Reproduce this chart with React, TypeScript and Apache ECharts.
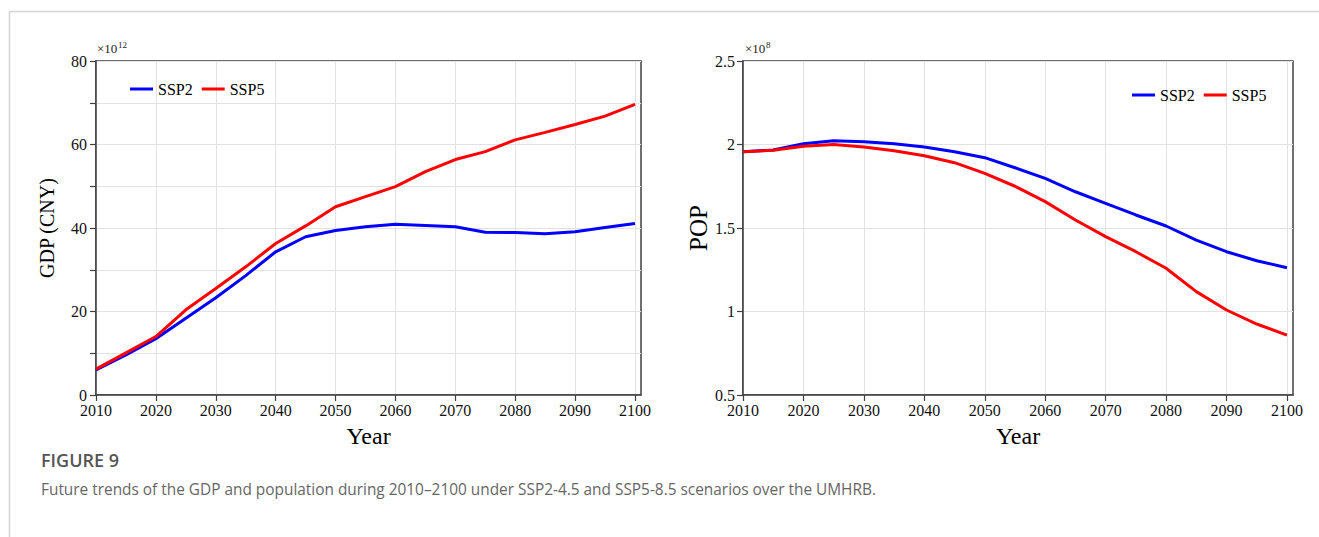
import React, { useEffect, useRef } from "react";
import * as echarts from "echarts";

const years = [2010, 2015, 2020, 2025, 2030, 2035, 2040, 2045, 2050, 2055, 2060, 2065, 2070, 2075, 2080, 2085, 2090, 2095, 2100];
const gdpSSP2 = [6.0, 9.6, 13.5, 18.4, 23.3, 28.6, 34.3, 37.9, 39.4, 40.3, 40.9, 40.6, 40.3, 39.0, 38.9, 38.6, 39.1, 40.1, 41.1];
const gdpSSP5 = [6.2, 10.1, 14.0, 20.4, 25.5, 30.7, 36.3, 40.5, 45.1, 47.5, 49.9, 53.5, 56.4, 58.3, 61.1, 62.9, 64.8, 66.8, 69.6];
const popSSP2 = [1.957, 1.967, 2.005, 2.022, 2.017, 2.005, 1.985, 1.957, 1.921, 1.861, 1.797, 1.717, 1.648, 1.578, 1.512, 1.428, 1.358, 1.304, 1.262];
const popSSP5 = [1.957, 1.965, 1.99, 2.0, 1.985, 1.962, 1.933, 1.891, 1.827, 1.75, 1.658, 1.548, 1.448, 1.358, 1.259, 1.119, 1.009, 0.925, 0.858];
const xTicks = [2010, 2020, 2030, 2040, 2050, 2060, 2070, 2080, 2090, 2100];
const seriesNames = ["SSP2", "SSP5"];
const figureLabel = "FIGURE 9";
const captionText = "Future trends of the GDP and population during 2010–2100 under SSP2-4.5 and SSP5-8.5 scenarios over the UMHRB.";

const SERIF = '"Liberation Serif", "Times New Roman", serif';

export default function App() {
  const ref = useRef<HTMLDivElement>(null);
  useEffect(() => {
    if (!ref.current) return;
    const chart = echarts.init(ref.current, null, { renderer: "svg" });
    const pair = (xs: number[], ys: number[]) => xs.map((x, i) => [x, ys[i]]);
    const axisLineStyle = { color: "#404040", width: 1.5 };
    const xAxisBase = (gridIndex: number) => ({
      type: "value",
      gridIndex,
      min: 2010,
      max: 2101,
      interval: 10,
      name: "Year",
      nameLocation: "middle",
      nameGap: 29,
      nameTextStyle: { fontFamily: SERIF, fontSize: 24, color: "#000" },
      axisLine: { show: true, lineStyle: axisLineStyle },
      axisTick: { show: true, length: 6, inside: false, lineStyle: { color: "#404040", width: 1.2 }, customValues: xTicks },
      axisLabel: {
        fontFamily: SERIF,
        fontSize: 16,
        color: "#111",
        margin: 7,
        customValues: xTicks,
        formatter: (v: number) => (v % 10 === 0 ? String(v) : ""),
      },
      splitLine: { show: true, lineStyle: { color: "#e2e2e2", width: 1 } },
    });
    const legendBase = (left: number, top: number) => ({
      data: seriesNames,
      left,
      top,
      icon: "rect",
      itemWidth: 23,
      itemHeight: 3,
      itemGap: 9,
      textStyle: { fontFamily: SERIF, fontSize: 16, color: "#000" },
    });
    const option: any = {
      animation: false,
      backgroundColor: "#fff",
      grid: [
        { left: 96, top: 61, width: 545, height: 334, show: true, borderColor: "#404040", borderWidth: 1.5, backgroundColor: "transparent" },
        { left: 743, top: 61, width: 550, height: 334, show: true, borderColor: "#404040", borderWidth: 1.5, backgroundColor: "transparent" },
      ],
      legend: [legendBase(125, 76), legendBase(1127, 82)],
      xAxis: [xAxisBase(0), xAxisBase(1)],
      yAxis: [
        {
          type: "value",
          gridIndex: 0,
          min: 0,
          max: 80,
          interval: 10,
          name: "GDP (CNY)",
          nameLocation: "middle",
          nameGap: 39,
          nameTextStyle: { fontFamily: SERIF, fontSize: 20, color: "#000" },
          axisLine: { show: true, lineStyle: axisLineStyle },
          axisTick: { show: true, length: 6, lineStyle: { color: "#404040", width: 1.2 } },
          axisLabel: {
            fontFamily: SERIF,
            fontSize: 16,
            color: "#111",
            margin: 9,
            formatter: (v: number) => (v % 20 === 0 ? String(v) : ""),
          },
          splitLine: { show: true, lineStyle: { color: "#e2e2e2", width: 1 } },
        },
        {
          type: "value",
          gridIndex: 1,
          min: 0.5,
          max: 2.5,
          interval: 0.5,
          name: "POP",
          nameLocation: "middle",
          nameGap: 32,
          nameTextStyle: { fontFamily: SERIF, fontSize: 25, color: "#000" },
          axisLine: { show: true, lineStyle: axisLineStyle },
          axisTick: { show: true, length: 6, lineStyle: { color: "#404040", width: 1.2 } },
          axisLabel: { fontFamily: SERIF, fontSize: 16, color: "#111", margin: 8 },
          splitLine: { show: true, lineStyle: { color: "#e2e2e2", width: 1 } },
        },
      ],
      series: [
        { name: "SSP2", type: "line", xAxisIndex: 0, yAxisIndex: 0, data: pair(years, gdpSSP2), showSymbol: false, symbol: "none", lineStyle: { color: "#0000ff", width: 3 }, itemStyle: { color: "#0000ff" } },
        { name: "SSP5", type: "line", xAxisIndex: 0, yAxisIndex: 0, data: pair(years, gdpSSP5), showSymbol: false, symbol: "none", lineStyle: { color: "#ff0000", width: 3 }, itemStyle: { color: "#ff0000" } },
        { name: "SSP2", type: "line", xAxisIndex: 1, yAxisIndex: 1, data: pair(years, popSSP2), showSymbol: false, symbol: "none", lineStyle: { color: "#0000ff", width: 3 }, itemStyle: { color: "#0000ff" } },
        { name: "SSP5", type: "line", xAxisIndex: 1, yAxisIndex: 1, data: pair(years, popSSP5), showSymbol: false, symbol: "none", lineStyle: { color: "#ff0000", width: 3 }, itemStyle: { color: "#ff0000" } },
      ],
      graphic: [
        { type: "line", shape: { x1: 9.5, y1: 11.5, x2: 1319, y2: 11.5 }, style: { stroke: "#d4d4d4", lineWidth: 1.5 } },
        { type: "line", shape: { x1: 9.5, y1: 11.5, x2: 9.5, y2: 537 }, style: { stroke: "#d4d4d4", lineWidth: 1.5 } },
        { type: "text", x: 97, y: 42, style: { text: "×10", font: `13px ${SERIF}`, fill: "#222" } },
        { type: "text", x: 118, y: 40, style: { text: "12", font: `9px ${SERIF}`, fill: "#222" } },
        { type: "text", x: 745, y: 42, style: { text: "×10", font: `13px ${SERIF}`, fill: "#222" } },
        { type: "text", x: 766, y: 40, style: { text: "8", font: `9px ${SERIF}`, fill: "#222" } },
        { type: "text", x: 41, y: 451, style: { text: figureLabel, font: `600 18px "Open Sans", "Noto Sans", sans-serif`, fill: "#555" } },
        { type: "text", x: 41, y: 482, style: { text: captionText, font: `15.4px "Open Sans", "Noto Sans", sans-serif`, fill: "#666" } },
      ],
    };
    chart.setOption(option);
    return () => chart.dispose();
  }, []);
  return <div ref={ref} style={{ position: "fixed", left: 0, top: 0, width: 1319, height: 537, background: "#fff" }} />;
}
